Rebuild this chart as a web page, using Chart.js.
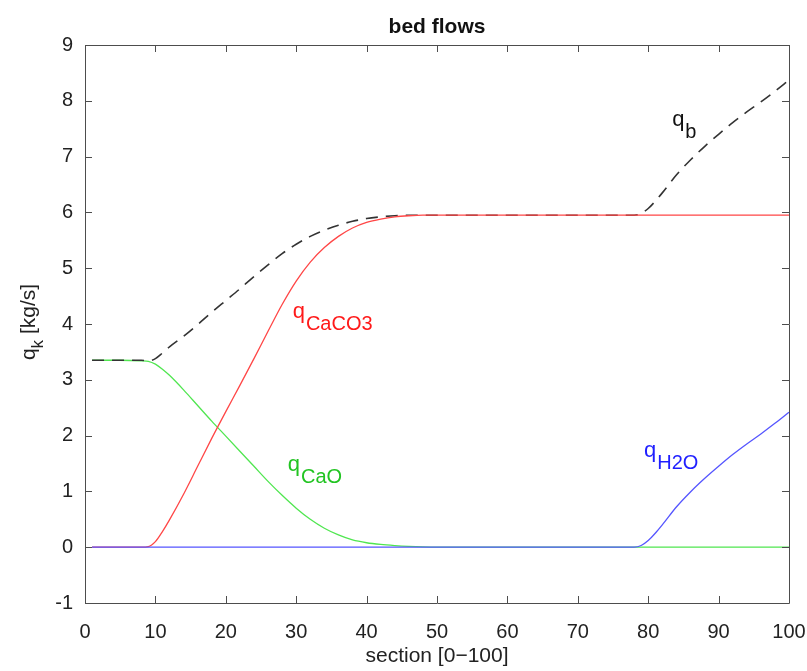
<!DOCTYPE html>
<html>
<head>
<meta charset="utf-8">
<script src="https://cdn.jsdelivr.net/npm/chart.js@4"></script>
<style>
  body { margin: 0; background: #fff; }
  #wrap { width: 807px; height: 671px; }
</style>
</head>
<body>
<div id="wrap"><canvas id="myChart"></canvas></div>
<script>
// section positions (x) and the flows
const sections = [1, 5, 8, 9, 10, 11, 12, 14, 16, 18, 20, 22, 24, 26, 28, 30, 32, 34, 36, 38, 40, 42, 44, 46, 48, 50,
    55, 60, 65, 70, 75, 77, 78, 79, 80, 81, 82, 84, 86, 88, 90, 92, 94, 96, 98, 100];

const qCaO = [3.35, 3.35, 3.34, 3.33, 3.28, 3.19, 3.08, 2.82, 2.54, 2.26, 1.99, 1.72, 1.45, 1.18, 0.93, 0.7, 0.5, 0.34, 0.22, 0.13, 0.08, 0.05, 0.03, 0.015, 0.005, 0,
    0, 0, 0, 0, 0, 0, 0, 0, 0, 0, 0, 0, 0, 0, 0, 0, 0, 0, 0, 0];

const qCaCO3 = [0, 0, 0, 0.01, 0.1, 0.28, 0.49, 0.95, 1.45, 1.95, 2.43, 2.9, 3.38, 3.87, 4.35, 4.77, 5.11, 5.37, 5.57, 5.72, 5.82, 5.88, 5.92, 5.94, 5.95, 5.95,
    5.95, 5.95, 5.95, 5.95, 5.95, 5.95, 5.95, 5.95, 5.95, 5.95, 5.95, 5.95, 5.95, 5.95, 5.95, 5.95, 5.95, 5.95, 5.95, 5.95];

const qH2O = [0, 0, 0, 0, 0, 0, 0, 0, 0, 0, 0, 0, 0, 0, 0, 0, 0, 0, 0, 0, 0, 0, 0, 0, 0, 0,
    0, 0, 0, 0, 0, 0, 0, 0.03, 0.12, 0.25, 0.4, 0.72, 0.99, 1.23, 1.45, 1.66, 1.85, 2.03, 2.22, 2.42];

const qb = [3.35, 3.35, 3.35, 3.34, 3.38, 3.48, 3.59, 3.78, 3.99, 4.21, 4.42, 4.63, 4.85, 5.06, 5.26, 5.43, 5.57, 5.68, 5.77, 5.84, 5.89, 5.92, 5.94, 5.95, 5.95, 5.95,
    5.95, 5.95, 5.95, 5.95, 5.95, 5.95, 5.95, 5.98, 6.07, 6.2, 6.35, 6.67, 6.94, 7.18, 7.4, 7.61, 7.8, 7.98, 8.17, 8.37];

const xTicks = [0, 10, 20, 30, 40, 50, 60, 70, 80, 90, 100];
const yTicks = [-1, 0, 1, 2, 3, 4, 5, 6, 7, 8, 9];

const FONT = "'Liberation Sans', Arial, Helvetica, sans-serif";

function puntos(valores) {
    return sections.map((x, i) => ({ x: x, y: valores[i] }));
}

// texto "q" con subindice
function qLabel(ctx, x, y, sub, color) {
    ctx.fillStyle = color;
    ctx.textAlign = 'left';
    ctx.textBaseline = 'alphabetic';
    ctx.font = '22px ' + FONT;
    ctx.fillText('q', x, y);
    const w = ctx.measureText('q').width;
    ctx.font = '20px ' + FONT;
    ctx.fillText(sub, x + w + 1, y + 12);
}

const matlabBox = {
    id: 'matlabBox',
    afterDraw(chart) {
        const ctx = chart.ctx;
        const a = chart.chartArea;
        const xs = chart.scales.x;
        const ys = chart.scales.y;
        ctx.save();

        // caja y ticks hacia dentro
        ctx.strokeStyle = '#4d4d4d';
        ctx.lineWidth = 1;
        ctx.beginPath();
        ctx.rect(a.left + 0.5, a.top + 0.5, a.right - a.left, a.bottom - a.top);
        xTicks.forEach(v => {
            const px = Math.round(xs.getPixelForValue(v)) + 0.5;
            ctx.moveTo(px, a.bottom); ctx.lineTo(px, a.bottom - 7);
            ctx.moveTo(px, a.top); ctx.lineTo(px, a.top + 7);
        });
        yTicks.forEach(v => {
            const py = Math.round(ys.getPixelForValue(v)) + 0.5;
            ctx.moveTo(a.left, py); ctx.lineTo(a.left + 7, py);
            ctx.moveTo(a.right, py); ctx.lineTo(a.right - 7, py);
        });
        ctx.stroke();

        // titulo
        ctx.fillStyle = '#111';
        ctx.font = 'bold 21px ' + FONT;
        ctx.textAlign = 'center';
        ctx.textBaseline = 'middle';
        ctx.fillText('bed flows', (a.left + a.right) / 2, 27);

        // titulo eje y con subindice
        ctx.translate(31, 322);
        ctx.rotate(-Math.PI / 2);
        ctx.font = '21px ' + FONT;
        const w1 = ctx.measureText('q').width;
        ctx.font = '17px ' + FONT;
        const w2 = ctx.measureText('k').width;
        ctx.font = '21px ' + FONT;
        const w3 = ctx.measureText(' [kg/s]').width;
        let start = -(w1 + w2 + w3) / 2;
        ctx.textAlign = 'left';
        ctx.textBaseline = 'alphabetic';
        ctx.fillStyle = '#222';
        ctx.fillText('q', start, 4);
        ctx.font = '17px ' + FONT;
        ctx.fillText('k', start + w1, 12);
        ctx.font = '21px ' + FONT;
        ctx.fillText(' [kg/s]', start + w1 + w2, 4);
        ctx.restore();

        // etiquetas de las curvas
        ctx.save();
        qLabel(ctx, xs.getPixelForValue(83.4), ys.getPixelForValue(7.55), 'b', '#111');
        qLabel(ctx, xs.getPixelForValue(29.5), ys.getPixelForValue(4.1), 'CaCO3', '#ff1a1a');
        qLabel(ctx, xs.getPixelForValue(28.8), ys.getPixelForValue(1.36), 'CaO', '#22c422');
        qLabel(ctx, xs.getPixelForValue(79.4), ys.getPixelForValue(1.62), 'H2O', '#1f1fff');
        ctx.restore();
    }
};

const ctx = document.getElementById('myChart');
const myChart = new Chart(ctx, {
    type: 'scatter',
    data: {
        datasets: [{
            label: 'qH2O',
            data: puntos(qH2O),
            borderColor: 'rgb(85, 85, 255)',
            borderWidth: 1.3,
            order: 0
        }, {
            label: 'qCaCO3',
            data: puntos(qCaCO3),
            borderColor: 'rgb(255, 70, 70)',
            borderWidth: 1.3,
            order: 1
        }, {
            label: 'qb',
            data: puntos(qb),
            borderColor: '#333333',
            borderWidth: 1.6,
            borderDash: [12, 8],
            order: 2
        }, {
            label: 'qCaO',
            data: puntos(qCaO),
            borderColor: 'rgb(80, 230, 80)',
            borderWidth: 1.3,
            order: 3
        }]
    },
    options: {
        responsive: true,
        maintainAspectRatio: false,
        animation: false,
        showLine: true,
        elements: {
            point: { radius: 0 },
            line: { tension: 0.4, cubicInterpolationMode: 'monotone', fill: false }
        },
        layout: { padding: { top: 45, right: 18, left: 0, bottom: 0 } },
        plugins: {
            legend: { display: false },
            tooltip: { enabled: false },
            title: { display: false }
        },
        scales: {
            x: {
                type: 'linear',
                min: 0,
                max: 100,
                afterBuildTicks: s => { s.ticks = xTicks.map(v => ({ value: v })); },
                afterFit: s => { s.height = 68; s.paddingLeft = 0; s.paddingRight = 0; },
                grid: { display: false, drawTicks: false },
                border: { display: false },
                ticks: { color: '#222', font: { family: FONT, size: 20 }, padding: 17, maxRotation: 0 },
                title: { display: true, text: 'section [0\u2212100]', color: '#222', font: { family: FONT, size: 21 }, padding: { top: 0, bottom: 2 } }
            },
            y: {
                type: 'linear',
                min: -1,
                max: 9,
                afterBuildTicks: s => { s.ticks = yTicks.map(v => ({ value: v })); },
                afterFit: s => { s.width = 85; s.paddingTop = 0; s.paddingBottom = 0; },
                grid: { display: false, drawTicks: false },
                border: { display: false },
                ticks: { color: '#222', font: { family: FONT, size: 20 }, padding: 12 }
            }
        }
    },
    plugins: [matlabBox]
});
</script>
</body>
</html>
